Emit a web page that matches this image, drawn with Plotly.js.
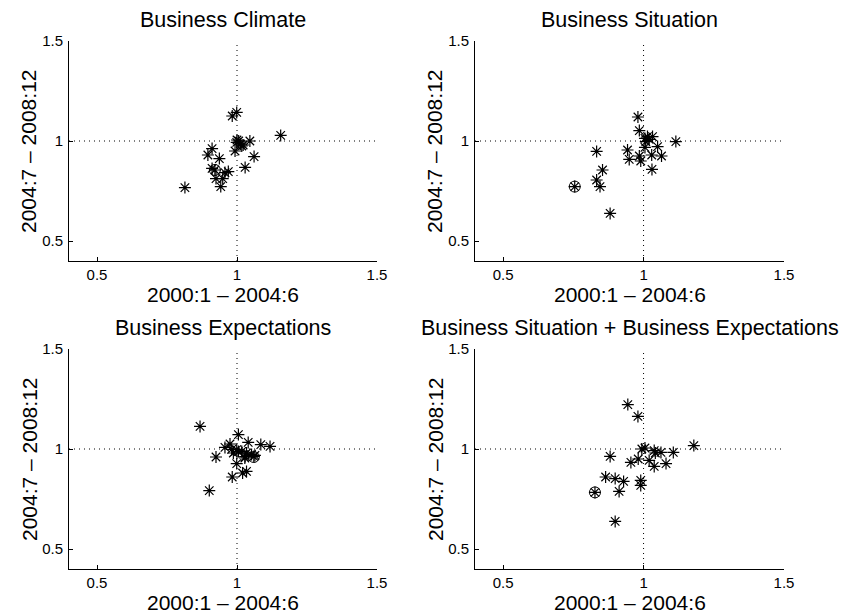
<!DOCTYPE html>
<html>
<head>
<meta charset="utf-8">
<script src="https://cdn.plot.ly/plotly-3.0.1.min.js"></script>
<style>html,body{margin:0;padding:0;background:#fff;}#chart{width:850px;height:616px;}</style>
</head>
<body>
<div id="chart"></div>
<script>
// ---- data ----
var panelTitles = ["Business Climate", "Business Situation", "Business Expectations", "Business Situation + Business Expectations"];
var xTitle = "2000:1 \u2013 2004:6";
var yTitle = "2004:7 \u2013 2008:12";
var tickValues = [0.5, 1, 1.5];
var tickLabels = ["0.5", "1", "1.5"];
var axisRange = [0.4, 1.5];
var refValue = 1;

var climateX = [0.814, 0.983, 0.999, 1.156, 0.911, 0.896, 0.937, 0.999, 1.006, 1.012, 1.022, 1.046, 0.993, 1.061, 1.029, 0.911, 0.921, 0.925, 0.957, 0.969, 0.949, 0.942, 1.000, 1.017];
var climateY = [0.767, 1.125, 1.143, 1.028, 0.962, 0.930, 0.912, 0.993, 1.000, 0.985, 0.980, 1.000, 0.950, 0.922, 0.868, 0.863, 0.855, 0.812, 0.842, 0.847, 0.812, 0.772, 1.005, 0.975];
var climateHiX = [0.921], climateHiY = [0.855];

var situationX = [0.980, 0.985, 1.005, 1.014, 1.032, 1.008, 1.020, 1.115, 0.833, 0.943, 0.949, 0.985, 0.990, 1.005, 1.050, 1.029, 1.064, 1.030, 0.854, 0.833, 0.845, 0.755, 0.881];
var situationY = [1.120, 1.052, 1.013, 1.022, 1.022, 0.997, 1.008, 0.997, 0.948, 0.955, 0.908, 0.925, 0.900, 0.968, 0.972, 0.930, 0.925, 0.858, 0.855, 0.805, 0.772, 0.772, 0.638];
var situationHiX = [0.755], situationHiY = [0.772];

var expectX = [0.868, 1.005, 0.975, 0.957, 1.040, 1.085, 1.118, 0.925, 0.999, 1.017, 1.034, 1.052, 1.064, 1.060, 1.028, 0.999, 1.034, 1.020, 0.983, 0.901, 0.987, 1.029, 1.005, 0.981];
var expectY = [1.113, 1.072, 1.025, 1.008, 1.033, 1.022, 1.013, 0.960, 0.997, 0.988, 0.980, 0.972, 0.968, 0.963, 0.955, 0.927, 0.888, 0.880, 0.860, 0.792, 0.980, 0.962, 0.987, 0.998];
var expectHiX = [1.060], expectHiY = [0.960];

var combX = [0.944, 0.980, 1.179, 0.994, 1.005, 1.038, 1.062, 1.106, 1.042, 0.881, 0.955, 0.981, 1.020, 1.038, 1.080, 0.865, 0.899, 0.929, 0.913, 0.990, 0.990, 0.827, 0.899];
var combY = [1.222, 1.163, 1.017, 1.000, 1.005, 0.992, 0.983, 0.983, 0.980, 0.963, 0.933, 0.950, 0.943, 0.913, 0.927, 0.860, 0.852, 0.838, 0.788, 0.843, 0.818, 0.783, 0.638];
var combHiX = [0.827], combHiY = [0.783];

// ---- build ----
var sets = [
  [climateX, climateY, climateHiX, climateHiY],
  [situationX, situationY, situationHiX, situationHiY],
  [expectX, expectY, expectHiX, expectHiY],
  [combX, combY, combHiX, combHiY]
];
var W = 850, H = 616;
var colPx = [[69, 377], [475, 784]];
var rowPx = [[41, 261], [349, 569]];
var font = "Liberation Sans, Arial, Helvetica, sans-serif";

var traces = [];
var layout = {
  width: W, height: H,
  margin: {l: 0, r: 0, t: 0, b: 0},
  paper_bgcolor: "#fff", plot_bgcolor: "#fff",
  showlegend: false,
  font: {family: font, color: "#000", size: 15},
  shapes: [], annotations: []
};

sets.forEach(function (s, i) {
  var n = i === 0 ? "" : String(i + 1);
  var col = colPx[i % 2], row = rowPx[Math.floor(i / 2)];
  var xd = [col[0] / W, col[1] / W];
  var yd = [1 - row[1] / H, 1 - row[0] / H];
  var axBase = {
    range: axisRange, tickmode: "array", tickvals: tickValues, ticktext: tickLabels,
    showline: true, linecolor: "#000", linewidth: 1, ticks: "inside", ticklen: 4, tickcolor: "#000",
    showgrid: false, zeroline: false, mirror: false, fixedrange: true,
    tickfont: {family: font, size: 15, color: "#000"}
  };
  layout["xaxis" + n] = Object.assign({}, axBase, {domain: xd, anchor: "y" + n});
  layout["yaxis" + n] = Object.assign({}, axBase, {domain: yd, anchor: "x" + n, ticklabelstandoff: 2});

  // reference dotted lines
  layout.shapes.push({type: "line", xref: "x" + n, yref: "y" + n, x0: refValue, x1: refValue, y0: axisRange[0], y1: axisRange[1],
    line: {color: "#000", width: 1, dash: "1px,4px"}});
  layout.shapes.push({type: "line", xref: "x" + n, yref: "y" + n, x0: axisRange[0], x1: axisRange[1], y0: refValue, y1: refValue,
    line: {color: "#000", width: 1, dash: "1px,4px"}});

  traces.push({x: s[0], y: s[1], xaxis: "x" + n, yaxis: "y" + n, type: "scatter", mode: "markers",
    marker: {symbol: "asterisk-open", size: 10, color: "#000", line: {color: "#000", width: 1.2}}, hoverinfo: "x+y"});
  traces.push({x: s[2], y: s[3], xaxis: "x" + n, yaxis: "y" + n, type: "scatter", mode: "markers",
    marker: {symbol: "circle-open", size: 11, color: "#000", line: {color: "#000", width: 1}}, hoverinfo: "x+y"});

  var cx = (xd[0] + xd[1]) / 2;
  // panel title
  layout.annotations.push({text: panelTitles[i], xref: "paper", yref: "paper", x: cx, y: 1 - (row[0] - 21) / H,
    xanchor: "center", yanchor: "middle", showarrow: false, font: {family: font, size: 21.5, color: "#000"}});
  // x title
  layout.annotations.push({text: xTitle, xref: "paper", yref: "paper", x: cx, y: 1 - (row[1] + 33) / H,
    xanchor: "center", yanchor: "middle", showarrow: false, font: {family: font, size: 21, color: "#000"}});
  // y title
  layout.annotations.push({text: yTitle, xref: "paper", yref: "paper", x: (col[0] - 40) / W, y: 1 - ((row[0] + row[1]) / 2) / H,
    xanchor: "center", yanchor: "middle", textangle: -90, showarrow: false, font: {family: font, size: 21, color: "#000"}});
});

Plotly.newPlot("chart", traces, layout, {staticPlot: true, displayModeBar: false});
</script>
</body>
</html>
